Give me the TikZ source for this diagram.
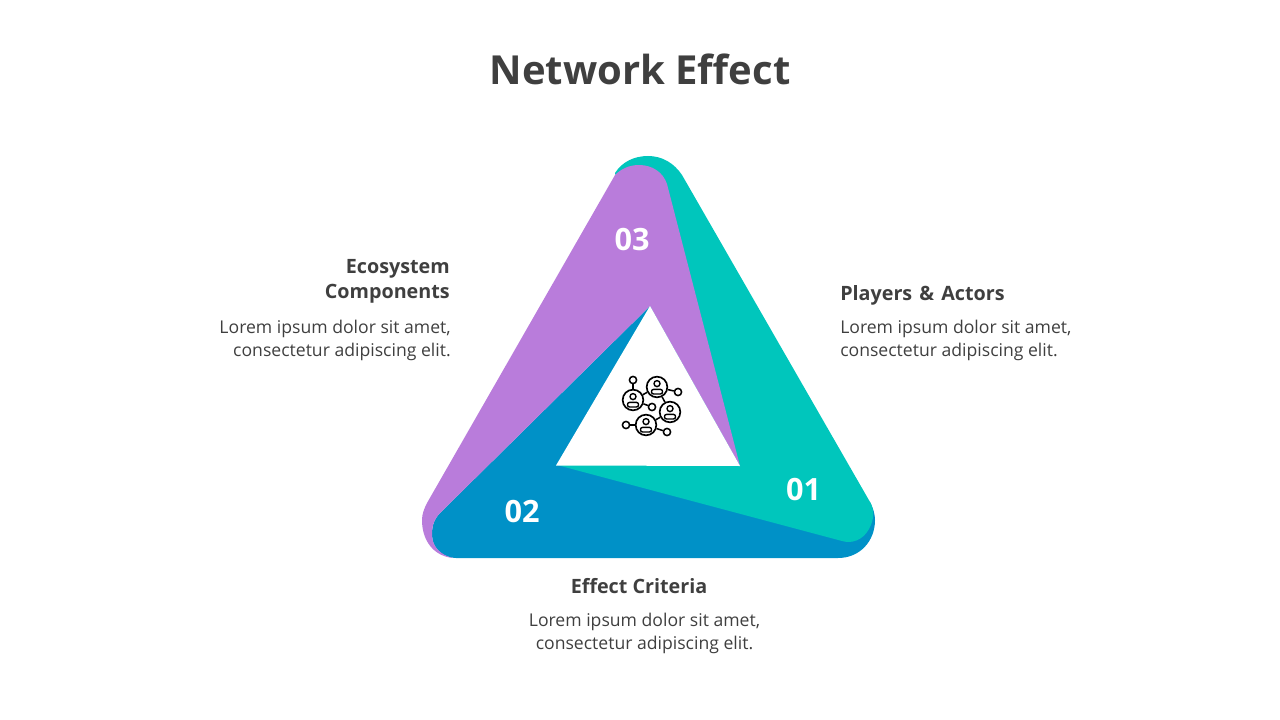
\documentclass[tikz,border=0pt]{standalone}
\usepackage{fontspec}
\setmainfont{Open Sans}
\definecolor{tealc}{HTML}{00C6BC}
\definecolor{bluec}{HTML}{0091C7}
\definecolor{purplec}{HTML}{B97CDB}
\definecolor{inkc}{HTML}{3F3F3F}
\tikzset{
  x=0.75pt,y=-0.75pt,
  titletext/.style={text=inkc,inner sep=0pt,font=\fontsize{30}{36}\selectfont\bfseries,anchor=base},
  headtext/.style={text=inkc,inner sep=0pt,font=\fontsize{14.8}{18.75}\selectfont\bfseries},
  bodytext/.style={text=inkc,inner sep=0pt,font=\fontsize{13.2}{17.25}\selectfont},
  numtext/.style={text=white,inner sep=0pt,font=\fontsize{23}{28}\selectfont\bfseries,anchor=base},
  bigc/.style={circle,draw=black,line width=1.25pt,minimum size=15.5pt,inner sep=0pt},
  smallc/.style={circle,draw=black,line width=1.15pt,minimum size=5.4pt,inner sep=0pt},
  link/.style={draw=black,line width=1.15pt},
  person/.style={draw=black,line width=1.05pt},
}
\newcommand{\persona}[1]{%
  \draw[person] ($(#1)+(0,-3.4)$) circle (3);
  \draw[person,rounded corners=1.5pt] ($(#1)+(-5.5,2.4)$) rectangle ($(#1)+(5.5,7)$);
}
\usetikzlibrary{calc}
\begin{document}
\begin{tikzpicture}
\useasboundingbox (0,0) rectangle (1280,720);
% blue
\fill[bluec] (650,306) -- (441,512) .. controls (433,520) and (432,527) .. (432,535)
  .. controls (432,548) and (443,558) .. (456,558) -- (838,558)
  .. controls (860,558) and (875,541) .. (875,520)
  .. controls (875,514) and (873,508) .. (870,502) -- (740,466) -- cycle;
% teal
\fill[tealc] (615,173) .. controls (622,162) and (634,156) .. (648,156)
  .. controls (662,156) and (674,163) .. (682,175) -- (870,502)
  .. controls (874,509) and (875,518) .. (869,529)
  .. controls (863,540) and (852,544) .. (842,541) -- (557,465) -- (650,306) -- cycle;
% purple
\fill[purplec] (615,175) .. controls (621,169) and (629,165) .. (639,165)
  .. controls (652,165) and (663,172) .. (667,184) -- (740,466) -- (650,306) -- (441,512)
  .. controls (433,520) and (432,527) .. (432,535)
  .. controls (432,546) and (440,555) .. (453,558)
  .. controls (433,556) and (422,540) .. (422,520)
  .. controls (422,514) and (424,509) .. (427,503) -- cycle;
% centre
\fill[white] (650,306) -- (740,466) -- (556,465.5) -- cycle;

\node[titletext] (title) at (640,85) {Network Effect};
\node[numtext] (n3) at (632,250) {03};
\node[numtext] (n1) at (803.5,500) {01};
\node[numtext] (n2) at (522,522) {02};

\node[headtext,anchor=base east,align=right] (h3) at (450,298) {Ecosystem\\Components};
\node[bodytext,anchor=base east,align=right] (b3) at (451,356) {Lorem ipsum dolor sit amet,\\consectetur adipiscing elit.};
\node[headtext,anchor=base west,align=left] (h1) at (840,300) {Players\hspace{1.5pt} \&\hspace{1.5pt} Actors};
\node[bodytext,anchor=base west,align=left] (b1) at (840,356) {Lorem ipsum dolor sit amet,\\consectetur adipiscing elit.};
\node[headtext,anchor=base] (h2) at (639,593) {Effect Criteria};
\node[bodytext,anchor=base,align=center] (b2) at (644.5,649) {Lorem ipsum dolor sit amet,\\consectetur adipiscing elit.};

% icon
\node[bigc] (pa) at (633,400) {};
\node[bigc] (pb) at (657,387) {};
\node[bigc] (pc) at (670,412) {};
\node[bigc] (pd) at (646,425) {};
\node[smallc] (sa) at (633,380) {};
\node[smallc] (sb) at (678,392) {};
\node[smallc] (sc) at (652,407) {};
\node[smallc] (sd) at (626,425) {};
\node[smallc] (se) at (667,432) {};
\draw[link] (sa) -- (pa);
\draw[link] (pa) -- (pb);
\draw[link] (pb) -- (sb);
\draw[link] (pa) -- (sc);
\draw[link] (pb) -- (pc);
\draw[link] (pc) -- (pd);
\draw[link] (sd) -- (pd);
\draw[link] (pd) -- (se);
\persona{pa}\persona{pb}\persona{pc}\persona{pd}
\end{tikzpicture}
\end{document}
